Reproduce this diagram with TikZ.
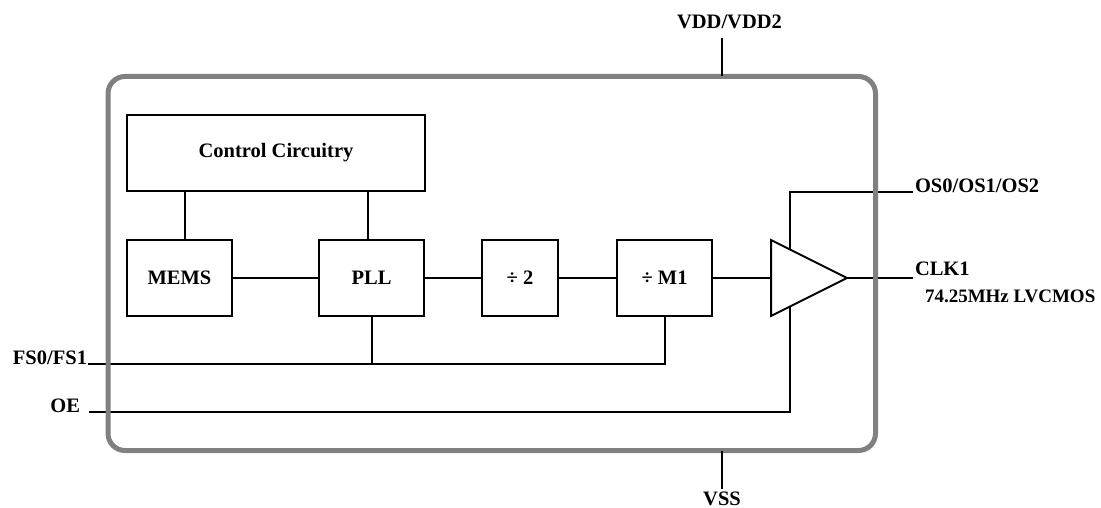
\documentclass[tikz,border=0pt]{standalone}
\usepackage{fontspec}
\setmainfont{Liberation Serif}
\usetikzlibrary{positioning,calc}

\begin{document}
\begin{tikzpicture}[x=1pt,y=-1pt,line width=2pt,
  font=\fontsize{20.5}{24}\selectfont\bfseries,
  blk/.style={draw,inner sep=0pt,outer sep=0pt,minimum height=76pt},
  pin/.style={inner sep=0pt},
  chip/.style={draw=gray,line width=5pt,rounded corners=17pt,inner sep=0pt,outer sep=0pt}]

\useasboundingbox (0,0) rectangle (1101,508);

\node[blk,minimum width=298pt] (ctrl) at (276,153) {Control Circuitry};
\node[blk,minimum width=105pt] (mems) at (179.5,278) {MEMS};
\node[blk,minimum width=105pt,right=87pt of mems] (pll) {PLL};
\node[blk,minimum width=76pt,right=58pt of pll] (div2) {÷ 2};
\node[blk,minimum width=95pt,right=59pt of div2] (divm) {÷ M1};
\node[inner sep=0pt,outer sep=0pt,minimum width=76pt,minimum height=76pt,right=59pt of divm] (buf) {};

% output buffer
\draw (buf.north west) -- (buf.east) -- (buf.south west) -- cycle;
\coordinate (osin) at ($(buf.north west)!0.25!(buf.east)$);
\coordinate (oein) at ($(buf.south west)!0.25!(buf.east)$);

\path
(mems) edge (pll)
(pll) edge (div2)
(div2) edge (divm)
(divm) edge (buf.west);

\draw ([xshift=5pt]mems.north) -- ([xshift=5pt]mems.north |- ctrl.south);
\draw ([xshift=-4pt]pll.north) -- ([xshift=-4pt]pll.north |- ctrl.south);

% select pins
\coordinate (fs) at (88,364);
\node[pin,anchor=base east] (fslbl) at (fs) {FS0/FS1};
\draw (fs) -| (divm.south);
\draw (pll.south) -- (pll.south |- fs);

\coordinate (oe) at (89,412);
\node[pin,anchor=base east] (oelbl) at (81,412) {OE};
\draw (oe) -| (oein);

\coordinate (os) at (913,192);
\node[pin,anchor=base west] (oslbl) at (914,193) {OS0/OS1/OS2};
\draw (osin) |- (os);

% output
\coordinate (clk) at (913,278);
\draw (buf.east) -- (clk);
\node[pin,anchor=base west] (clklbl) at (914,275) {CLK1};
\node[pin,anchor=base west,font=\fontsize{19}{22}\selectfont\bfseries] (freqlbl) at (924,302) {74.25MHz LVCMOS};

% package
\node[chip,minimum width=767.5pt,minimum height=374pt] (chip) at (491.75,263.5) {};

\coordinate (vdd) at (722,38);
\node[pin,anchor=base] (vddlbl) at (729.5,29) {VDD/VDD2};
\draw (vdd) -- (vdd |- chip.north);

\coordinate (vss) at (722,489);
\node[pin,anchor=base] (vsslbl) at (722,505) {VSS};
\draw (vss) -- (vss |- chip.south);

\end{tikzpicture}
\end{document}
